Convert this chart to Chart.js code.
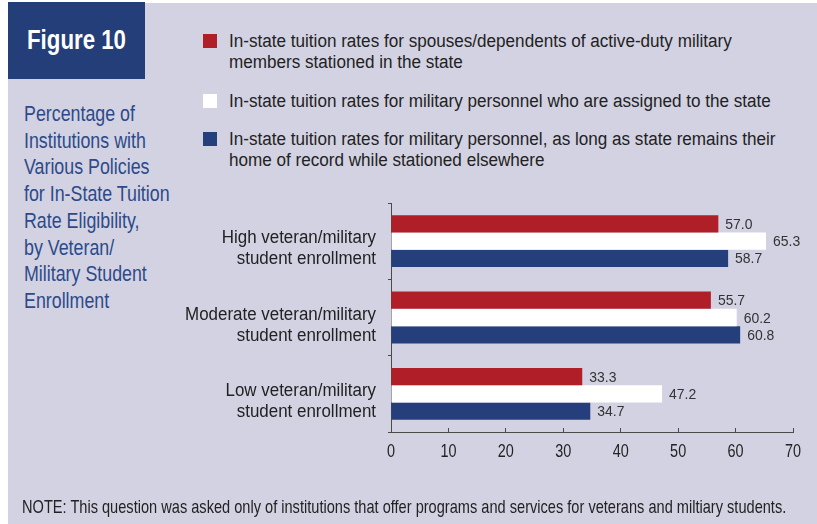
<!DOCTYPE html>
<html lang="en">
<head>
    <meta charset="UTF-8">
    <title>Figure 10</title>
    <script src="https://cdn.jsdelivr.net/npm/chart.js"></script>
    <style>
        body {
            margin: 0;
            background: #fff;
            font-family: 'Liberation Sans', Arial, sans-serif;
        }
        .panel {
            position: absolute;
            left: 8px;
            top: 3px;
            width: 809px;
            height: 521px;
            background: #d3d2e2;
        }
        .fig-box {
            position: absolute;
            left: 8px;
            top: 2px;
            width: 137px;
            height: 77px;
            background: #243e7a;
        }
        /* condensed text: the font is squeezed sideways */
        .narrow {
            position: absolute;
            white-space: nowrap;
            transform-origin: 0 0;
        }
        .fig-title {
            left: 27px;
            top: 26px;
            color: #fff;
            font-weight: bold;
            font-size: 28px;
            line-height: 28px;
            transform: scaleX(0.795);
        }
        .side-title {
            left: 24px;
            top: 101px;
            color: #2c4a8a;
            font-size: 22px;
            line-height: 26.7px;
            transform: scaleX(0.81);
        }
        .legend-box {
            position: absolute;
            width: 14px;
            height: 14px;
        }
        .legend-text {
            font-size: 18px;
            line-height: 21px;
            color: #222;
            transform: scaleX(0.95);
        }
        .note {
            left: 22px;
            top: 497px;
            font-size: 19px;
            line-height: 19px;
            color: #222;
            transform: scaleX(0.768);
        }
        #chartWrap {
            position: absolute;
            left: 0;
            top: 0;
        }
    </style>
</head>
<body>
    <div class="panel"></div>
    <div class="fig-box"></div>
    <div class="narrow fig-title">Figure 10</div>
    <div class="narrow side-title">Percentage of<br>Institutions with<br>Various Policies<br>for In-State Tuition<br>Rate Eligibility,<br>by Veteran/<br>Military Student<br>Enrollment</div>
    <div id="legend"></div>
    <div id="chartWrap"><canvas id="policyChart" width="817" height="524"></canvas></div>
    <div class="narrow note">NOTE: This question was asked only of institutions that offer programs and services for veterans and miltiary students.</div>

    <script>
        // Categories (enrollment level), one series per policy
        const categories = [
            ['High veteran/military', 'student enrollment'],
            ['Moderate veteran/military', 'student enrollment'],
            ['Low veteran/military', 'student enrollment']
        ];
        const seriesNames = [
            ['In-state tuition rates for spouses/dependents of active-duty military', 'members stationed in the state'],
            ['In-state tuition rates for military personnel who are assigned to the state'],
            ['In-state tuition rates for military personnel, as long as state remains their', 'home of record while stationed elsewhere']
        ];
        const spousesDependents = [57.0, 55.7, 33.3];
        const assignedToState = [65.3, 60.2, 47.2];
        const homeOfRecord = [58.7, 60.8, 34.7];
        const xTicks = [0, 10, 20, 30, 40, 50, 60, 70];

        const seriesColors = ['#b01e28', '#ffffff', '#243f7b'];
        const seriesValues = [spousesDependents, assignedToState, homeOfRecord];

        const FONT = "'Liberation Sans', Arial, sans-serif";
        const AXIS = '#4a4a4a';

        // legend rows, built from the series names/colours
        const legendTops = [31, 91, 129];
        document.getElementById('legend').innerHTML = seriesNames.map((lines, i) =>
            '<div class="legend-box" style="left:203px;top:' + (legendTops[i] + 3) + 'px;background:' + seriesColors[i] + '"></div>' +
            '<div class="narrow legend-text" style="left:229px;top:' + legendTops[i] + 'px">' + lines.join('<br>') + '</div>'
        ).join('');

        // text squeezed to a fraction of its natural width
        function narrowText(ctx, text, x, y, size, squeeze) {
            ctx.font = size + 'px ' + FONT;
            const w = ctx.measureText(text).width;
            ctx.fillText(text, x, y, w * squeeze);
        }

        // axis labels and bar values, placed from the chart's own scales
        const labelsPlugin = {
            id: 'labelsPlugin',
            afterDraw(chart) {
                const ctx = chart.ctx;
                const xs = chart.scales.x;
                const ys = chart.scales.y;
                ctx.save();
                ctx.textBaseline = 'alphabetic';

                ctx.fillStyle = '#222';
                ctx.textAlign = 'right';
                chart.data.labels.forEach((lines, i) => {
                    const cy = ys.getPixelForTick(i);
                    lines.forEach((line, j) => {
                        narrowText(ctx, line, chart.chartArea.left - 15, cy + 2 + j * 21.3, 18, 0.94);
                    });
                });

                ctx.textAlign = 'center';
                xs.ticks.forEach((t, i) => {
                    narrowText(ctx, String(t.value), xs.getPixelForTick(i), chart.chartArea.bottom + 25, 18.5, 0.78);
                });

                ctx.fillStyle = '#333';
                ctx.textAlign = 'left';
                chart.data.datasets.forEach((ds, di) => {
                    chart.getDatasetMeta(di).data.forEach((bar, i) => {
                        narrowText(ctx, ds.data[i].toFixed(1), bar.x + 7, bar.y + 5, 15.5, 0.9);
                    });
                });
                ctx.restore();
            }
        };

        new Chart(document.getElementById('policyChart'), {
            type: 'bar',
            data: {
                labels: categories,
                datasets: seriesValues.map((vals, i) => ({
                    label: seriesNames[i].join(' '),
                    data: vals,
                    backgroundColor: seriesColors[i],
                    borderWidth: 0,
                    barPercentage: 1,
                    categoryPercentage: 0.68
                }))
            },
            plugins: [labelsPlugin],
            options: {
                indexAxis: 'y',
                responsive: false,
                animation: false,
                devicePixelRatio: 1,
                layout: {
                    padding: { top: 203, right: 24, bottom: 62, left: 0 }
                },
                plugins: {
                    legend: { display: false },
                    tooltip: { enabled: false }
                },
                scales: {
                    x: {
                        min: 0,
                        max: 70,
                        afterBuildTicks(scale) {
                            scale.ticks = xTicks.map(v => ({ value: v }));
                        },
                        afterFit(scale) { scale.height = 30; },
                        border: { color: AXIS, width: 1 },
                        grid: { drawOnChartArea: false, drawTicks: true, tickLength: -4, color: AXIS },
                        ticks: { display: false }
                    },
                    y: {
                        afterFit(scale) { scale.width = 391; },
                        border: { color: AXIS, width: 1 },
                        grid: { drawOnChartArea: false, drawTicks: true, tickLength: 3, color: AXIS },
                        ticks: { display: false }
                    }
                }
            }
        });
    </script>
</body>
</html>
